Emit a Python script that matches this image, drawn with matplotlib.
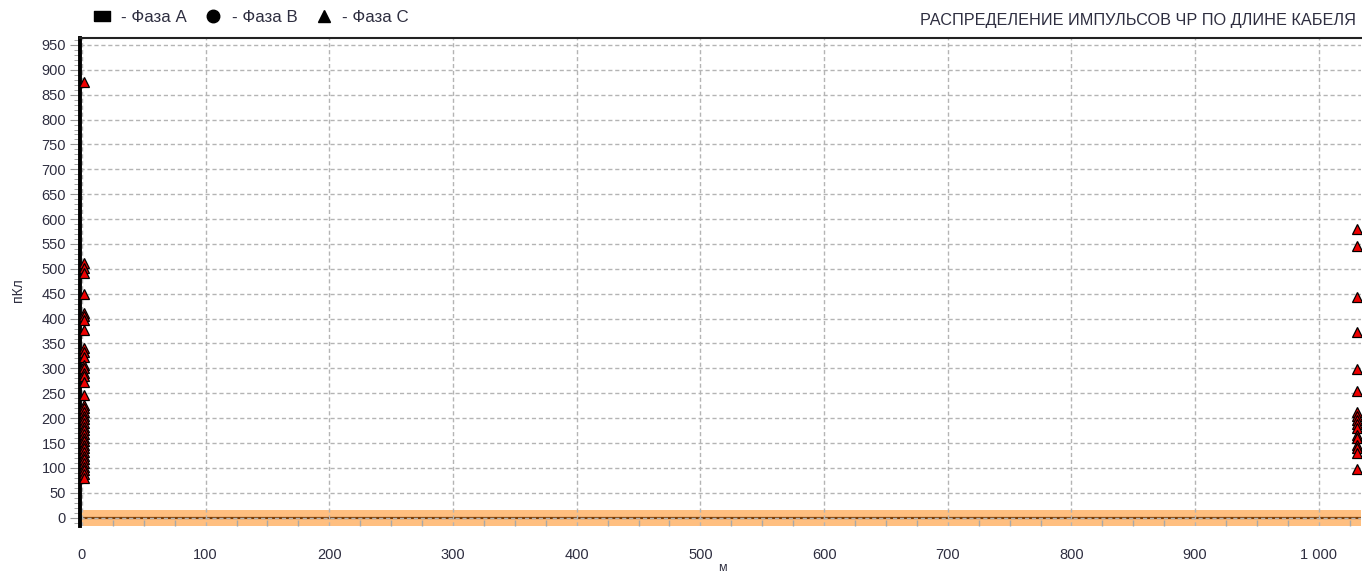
import matplotlib.pyplot as plt
from matplotlib.lines import Line2D
from matplotlib.ticker import MultipleLocator, FuncFormatter

plt.rcParams['font.family'] = ['Liberation Sans', 'DejaVu Sans']

# phase C pulses near the start of the cable (m, pC)
start_pos = 2
start_pc = [875, 512, 502, 492, 450, 412, 405, 398, 377, 341, 333, 323, 307, 301,
            291, 284, 273, 247, 227, 220, 212, 205, 198, 190, 183, 176, 168, 161,
            154, 146, 139, 132, 124, 117, 110, 102, 95, 88, 80]
# phase C pulses at the far end
end_pos = 1031
end_pc = [580, 545, 444, 373, 299, 255, 212, 205, 197, 189, 181, 166, 161,
          146, 140, 130, 98]

y_ticks = list(range(0, 951, 50))
x_ticks = list(range(0, 1001, 100))

TXT = '#2e2e40'

fig = plt.figure(figsize=(13.62, 5.75), dpi=100)
ax = fig.add_axes([0.0587, 0.085, 0.9405, 0.849])

ax.axhspan(-17, 16, color='#ffbf80', lw=0, zorder=0.5)
ax.axhline(0, color='#7a3e08', lw=1.6, zorder=1.2)

ax.plot([start_pos] * len(start_pc), start_pc, ls='none', marker='^', ms=6.5,
        mfc='#ee0000', mec='black', mew=0.9, zorder=5, clip_on=False)
ax.plot([end_pos] * len(end_pc), end_pc, ls='none', marker='^', ms=6.5,
        mfc='#ee0000', mec='black', mew=0.9, zorder=5, clip_on=False)

ax.set_xlim(-1.6, 1034)
ax.set_ylim(-17, 964)
ax.set_xticks(x_ticks)
ax.set_yticks(y_ticks)
ax.xaxis.set_minor_locator(MultipleLocator(25))
ax.yaxis.set_minor_locator(MultipleLocator(10))
ax.xaxis.set_major_formatter(FuncFormatter(lambda v, p: f"{int(v):,}".replace(',', ' ')))

ax.grid(True, which='major', color='#b4b4b4', ls=(0, (3, 2)), lw=1)
ax.tick_params(axis='x', which='major', length=0, pad=16, labelsize=10.5, labelcolor=TXT)
ax.tick_params(axis='x', which='minor', direction='in', length=4, color='#a8a8a8', width=1)
ax.tick_params(axis='y', which='major', length=7, color='#9a9a9a', labelsize=10.5,
               labelcolor=TXT, pad=3)
ax.tick_params(axis='y', which='minor', length=4, color='#9a9a9a')

for s in ['bottom', 'right']:
    ax.spines[s].set_visible(False)
ax.spines['left'].set_linewidth(2.8)
ax.spines['top'].set_linewidth(1.5)
ax.spines['top'].set_color('#222222')

fig.text(0.0132, 1 - 290 / 575, 'пКл', rotation=90, ha='center', va='center',
         fontsize=10, color=TXT)
fig.text(722 / 1362, 1 - 568 / 575, 'м', ha='center', va='center', fontsize=9, color=TXT)
fig.text(0.9955, 1 - 20 / 575, 'РАСПРЕДЕЛЕНИЕ ИМПУЛЬСОВ ЧР ПО ДЛИНЕ КАБЕЛЯ',
         ha='right', va='center', fontsize=11.7, color=TXT)

rect = [(-1.6, -1.0), (1.6, -1.0), (1.6, 1.0), (-1.6, 1.0), (-1.6, -1.0)]
handles = [
    Line2D([], [], ls='none', marker=rect, ms=12, color='black'),
    Line2D([], [], ls='none', marker='o', ms=9, color='black'),
    Line2D([], [], ls='none', marker='^', ms=9, color='black'),
]
labels = ['- Фаза А', '- Фаза В', '- Фаза С']
fig.legend(handles, labels, loc='center left', bbox_to_anchor=(94 / 1362, 1 - 17 / 575),
           ncol=3, frameon=False, fontsize=12.2, handlelength=1.0, handletextpad=0.6,
           columnspacing=1.05, labelcolor=TXT, borderaxespad=0, borderpad=0)

fig.savefig('out.png', dpi=100)
